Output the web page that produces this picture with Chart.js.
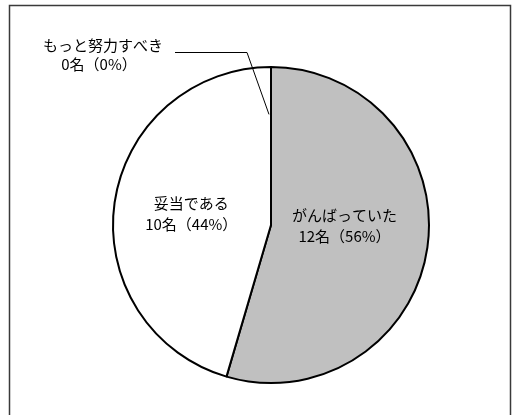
<!DOCTYPE html>
<html lang="ja">
<head>
<meta charset="UTF-8">
<title>評価</title>
<script src="https://cdn.jsdelivr.net/npm/chart.js@4/dist/chart.umd.min.js"></script>
<style>
  html, body { margin: 0; padding: 0; background: #fff; }
  #wrap { width: 514px; height: 415px; }
</style>
</head>
<body>
<div id="wrap"><canvas id="hyokaChart" width="514" height="415"></canvas></div>
<script>
// データ
const categories = ["がんばっていた", "妥当である", "もっと努力すべき"];
const counts = [12, 10, 0];
const percentLabels = ["56%", "44%", "0%"];
const sliceColors = ["#c0c0c0", "#ffffff", "#ffffff"];

const FONT = '"Noto Sans CJK JP", "Noto Sans", sans-serif';

// ラベルの半径位置 (円の半径に対する割合) と上下の微調整
const labelRadius = [0.47, 0.51, 0];
const labelShiftY = [-10, 0, 0];

// 外枠
const framePlugin = {
  id: "frame",
  beforeDraw(chart) {
    const c = chart.ctx;
    c.save();
    c.fillStyle = "#fff";
    c.fillRect(0, 0, chart.width, chart.height);
    c.strokeStyle = "#3a3a3a";
    c.lineWidth = 1.5;
    c.strokeRect(9.5, 5.5, 501, 440);
    c.restore();
  },
};

// 扇形の中のラベルと、0件の項目の引き出し線
const labelPlugin = {
  id: "sliceLabels",
  afterDatasetsDraw(chart) {
    const c = chart.ctx;
    const arcs = chart.getDatasetMeta(0).data;
    c.save();
    c.fillStyle = "#000";
    c.font = "15px " + FONT;
    c.textAlign = "center";
    c.textBaseline = "middle";

    arcs.forEach((arc, i) => {
      const text2 = `${counts[i]}名（${percentLabels[i]}）`;
      if (counts[i] > 0) {
        const mid = (arc.startAngle + arc.endAngle) / 2;
        const r = arc.outerRadius * labelRadius[i];
        const x = arc.x + Math.cos(mid) * r;
        const y = arc.y + Math.sin(mid) * r + labelShiftY[i];
        c.fillText(categories[i], x, y - 10);
        c.fillText(text2, x, y + 11);
      } else {
        // 0件は枠外にラベルを置いて線で結ぶ
        const lx = 103, ly = 45;
        c.fillText(categories[i], lx, ly);
        c.fillText(text2, lx - 4, ly + 19);
        const ang = arc.startAngle;
        const ex = arc.x + Math.cos(ang) * arc.outerRadius * 0.7 - 2;
        const ey = arc.y + Math.sin(ang) * arc.outerRadius * 0.7;
        c.strokeStyle = "#000";
        c.lineWidth = 1;
        c.beginPath();
        c.moveTo(175, 52.5);
        c.lineTo(247, 52.5);
        c.lineTo(ex, ey);
        c.stroke();
      }
    });
    c.restore();
  },
};

const ctx = document.getElementById("hyokaChart").getContext("2d");

const hyokaChart = new Chart(ctx, {
  type: "pie",
  data: {
    labels: categories,
    datasets: [
      {
        data: counts,
        backgroundColor: sliceColors,
        borderColor: "#000",
        borderWidth: 2,
        borderAlign: "center",
      },
    ],
  },
  options: {
    responsive: false,
    animation: false,
    layout: {
      padding: { top: 66, bottom: 31, left: 112, right: 84 },
    },
    plugins: {
      legend: { display: false },
      tooltip: { enabled: false },
    },
  },
  plugins: [framePlugin, labelPlugin],
});
</script>
</body>
</html>
